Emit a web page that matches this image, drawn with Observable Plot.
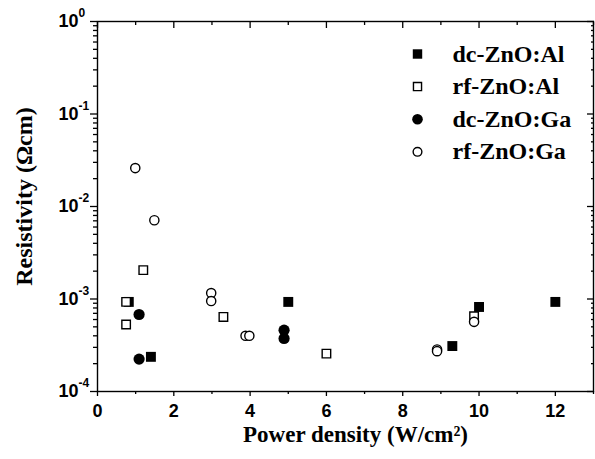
<!DOCTYPE html>
<html><head><meta charset="utf-8">
<script src="https://cdn.jsdelivr.net/npm/d3@7"></script>
<script src="https://cdn.jsdelivr.net/npm/@observablehq/plot@0.6"></script>
<style>body{margin:0;background:#fff}</style>
</head><body><div id="chart"></div>
<script>
// ---- data ----
const seriesNames = ["dc-ZnO:Al", "rf-ZnO:Al", "dc-ZnO:Ga", "rf-ZnO:Ga"];
const dcAlX = [0.82, 1.40, 5.0, 9.3, 10.0, 12.0];
const dcAlY = [9.3e-4, 2.37e-4, 9.3e-4, 3.1e-4, 8.2e-4, 9.3e-4];
const rfAlX = [0.75, 0.75, 1.20, 3.30, 6.0, 9.87];
const rfAlY = [9.3e-4, 5.3e-4, 2.05e-3, 6.4e-4, 2.57e-4, 6.5e-4];
const dcGaX = [1.09, 1.09, 4.89, 4.89];
const dcGaY = [6.8e-4, 2.24e-4, 4.6e-4, 3.74e-4];
const rfGaX = [0.99, 1.49, 2.98, 2.98, 3.88, 3.98, 8.9, 8.9, 9.87];
const rfGaY = [0.026, 7.1e-3, 1.16e-3, 9.5e-4, 4.0e-4, 4.0e-4, 2.85e-4, 2.73e-4, 5.66e-4];

const xMajorTicks = [0, 2, 4, 6, 8, 10, 12];
const xMinorTicks = [1, 3, 5, 7, 9, 11, 13];
const yMajorTicks = [1e-4, 1e-3, 1e-2, 1e-1, 1e0];
const yTickBase = ["10", "10", "10", "10", "10"];
const yTickExp = ["-4", "-3", "-2", "-1", "0"];
const yMinorTicks = [-4, -3, -2, -1].flatMap(k => [2,3,4,5,6,7,8,9].map(m => m * Math.pow(10, k)));
const xTitle = "Power density (W/cm²)";
const yTitle = "Resistivity (Ωcm)";

const pts = (xs, ys) => xs.map((x, i) => ({x, y: ys[i]}));
const seriesData = [pts(dcAlX, dcAlY), pts(rfAlX, rfAlY), pts(dcGaX, dcGaY), pts(rfGaX, rfGaY)];
const seriesStyle = [
  {symbol: "square", fill: "black", stroke: "none", r: 5.6},
  {symbol: "square", fill: "white", stroke: "black", r: 4.8},
  {symbol: "circle", fill: "black", stroke: "none", r: 5.6},
  {symbol: "circle", fill: "white", stroke: "black", r: 4.6}
];

const sans = "Liberation Sans, Arial, sans-serif";
const serif = "Liberation Serif, Times New Roman, serif";
const tickFont = {fontFamily: sans, fontWeight: "bold", fontSize: 18, fill: "black"};

const marks = [];
// axes ticks
marks.push(Plot.axisX({anchor: "bottom", ticks: xMajorTicks, tickSize: 5, tickPadding: 8, tickFormat: d => String(d), label: null, ...tickFont, strokeWidth: 1.3}));
marks.push(Plot.axisX({anchor: "bottom", ticks: xMinorTicks, tickSize: 3, tickFormat: () => "", label: null, strokeWidth: 1.3}));
marks.push(Plot.axisX({anchor: "top", ticks: xMajorTicks, tickSize: -6, tickFormat: () => "", label: null, strokeWidth: 1.3}));
marks.push(Plot.axisX({anchor: "top", ticks: xMinorTicks, tickSize: -3, tickFormat: () => "", label: null, strokeWidth: 1.3}));
marks.push(Plot.axisY({anchor: "left", ticks: yMajorTicks, tickSize: 7, tickFormat: () => "", label: null, strokeWidth: 1.3}));
marks.push(Plot.axisY({anchor: "left", ticks: yMinorTicks, tickSize: 4, tickFormat: () => "", label: null, strokeWidth: 1.3}));
marks.push(Plot.axisY({anchor: "right", ticks: yMajorTicks, tickSize: -7, tickFormat: () => "", label: null, strokeWidth: 1.3}));
marks.push(Plot.axisY({anchor: "right", ticks: yMinorTicks, tickSize: -3, tickFormat: () => "", label: null, strokeWidth: 1.3}));
// y tick labels with exponent
marks.push(Plot.text(yMajorTicks, {y: d => d, frameAnchor: "left", dx: -19, textAnchor: "end", lineAnchor: "middle", text: (d, i) => yTickBase[i], ...tickFont}));
marks.push(Plot.text(yMajorTicks, {y: d => d, frameAnchor: "left", dx: -19, dy: -8, textAnchor: "start", lineAnchor: "middle", text: (d, i) => yTickExp[i], fontFamily: sans, fontWeight: "bold", fontSize: 12, fill: "black"}));
// frame
marks.push(Plot.frame({stroke: "black", strokeWidth: 1.4}));
// data
seriesData.forEach((data, i) => {
  const s = seriesStyle[i];
  marks.push(Plot.dot(data, {x: "x", y: "y", symbol: () => s.symbol, r: s.r, fill: s.fill, stroke: s.stroke, strokeWidth: 1.4}));
});
// legend
seriesNames.forEach((name, i) => {
  const s = seriesStyle[i];
  marks.push(Plot.dot([name], {frameAnchor: "top-left", dx: 320, dy: 32.5 + i * 32.6, symbol: () => s.symbol, r: s.r * 0.95, fill: s.fill, stroke: s.stroke, strokeWidth: 1.4}));
  marks.push(Plot.text([name], {frameAnchor: "top-left", dx: 355, dy: 32.5 + i * 32.6, text: d => d, textAnchor: "start", lineAnchor: "middle", fontFamily: serif, fontWeight: "bold", fontSize: 24, fill: "black"}));
});
// titles
marks.push(Plot.text([xTitle], {frameAnchor: "bottom", dx: 10, dy: 43, text: d => d, textAnchor: "middle", lineAnchor: "middle", fontFamily: serif, fontWeight: "bold", fontSize: 23, fill: "black"}));
marks.push(Plot.text([yTitle], {frameAnchor: "left", dx: -73, dy: -10, rotate: -90, text: d => d, textAnchor: "middle", lineAnchor: "middle", fontFamily: serif, fontWeight: "bold", fontSize: 24, fill: "black"}));

const chart = Plot.plot({
  width: 595, height: 459,
  marginLeft: 97, marginRight: 2, marginTop: 21, marginBottom: 68,
  style: {background: "white", overflow: "visible", fontFamily: sans, fontWeight: "bold", fontSize: "18px", color: "black"},
  x: {domain: [0, 13]},
  y: {type: "log", domain: [1e-4, 1]},
  marks
});
document.getElementById("chart").appendChild(chart);
</script>
</body></html>
